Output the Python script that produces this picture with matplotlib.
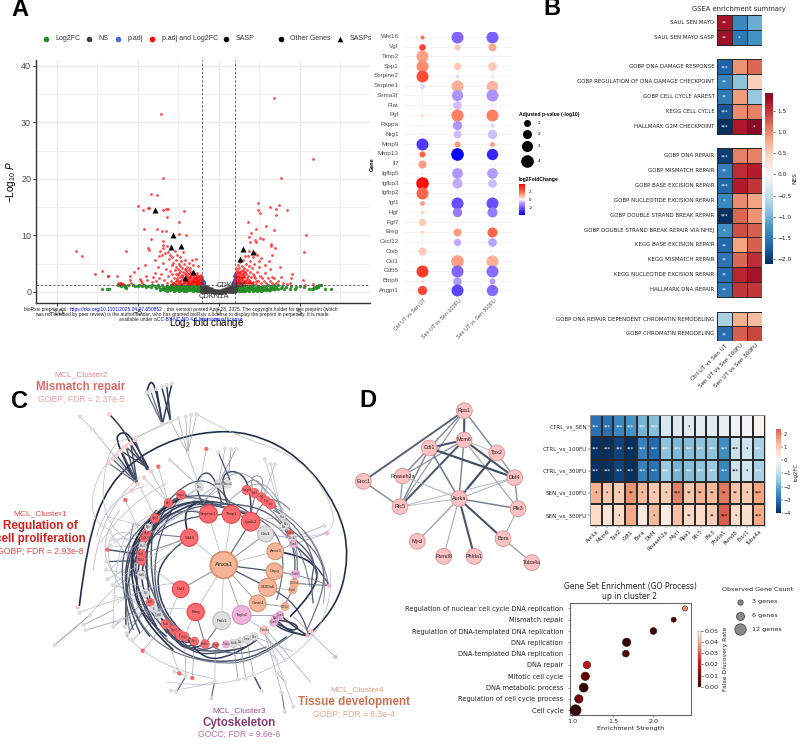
import numpy as np
import matplotlib
matplotlib.use("Agg")
import matplotlib.pyplot as plt
from matplotlib.colors import LinearSegmentedColormap, Normalize, to_rgb
from matplotlib.patches import Circle, PathPatch
from matplotlib.path import Path

plt.rcParams['font.family'] = ['Liberation Sans', 'DejaVu Sans']
plt.rcParams['mathtext.fontset'] = 'custom'
plt.rcParams['mathtext.rm'] = 'Liberation Sans'
plt.rcParams['mathtext.it'] = 'Liberation Sans:italic'
plt.rcParams['mathtext.default'] = 'regular'
DJ = 'DejaVu Sans'

# ---------- Panel A volcano ----------
RED_TOP = [(3.44,34.2),(-3.58,31.5),(5.84,23.5),(-3.42,20.2),(3.83,20.2),(-4.18,17.4),(-3.77,17.2),(-4.98,15.2),(-4.36,14.9),(-4.30,14.9),
 (-4.69,14.5),(-3.4,14.4),(-3.1,14.75),(-3.22,14.6),(-2.14,14.3),(-3.19,13.2),(-2.47,12.3),(-4.6,11.2),(-3.8,11.1),(-3.5,10.8),(-3.25,10.8),
 (-4.2,9.4),(-2.45,10.3),(-2.04,10.1),(-3.44,9),(-3.4,8.3),(-4.36,7.7),(-4.28,7.4),(-3.95,5.6),(-4.57,4.7),(-5,4.2),(-5.25,3.5),(-5.45,2.9),
 (-6.25,2.8),(-6.85,2.8),(-6.8,2.75),(-7.2,3.7),(-7.6,3.2),(-5.72,7.2),(-8.8,7.2),(-8.42,6.3),(2.45,15.7),(2.43,14.4),(2.57,13.9),(3.2,15),
 (3.52,14.7),(3.74,15.3),(4.22,14.5),(3.54,13.6),(1.83,12.4),(2.33,11.2),(2.92,11.7),(3.4,11),(1.98,10.5),(1.85,9.8),(5.39,10.1),(2.57,9.6),
 (2.72,9.4),(2.22,9.2),(2.33,8.9),(1.93,8.85),(3.23,8.4),(3.26,8.2),(3.46,7.7),(5.29,7.1),(3.31,6.5),(2.37,6.5),(2.47,5.4),(3.1,5.5),(3.8,4.5),
 (2.88,4.8),(3.2,4),(4.53,3.2),(3.87,2.7),(4.49,2.4),(5.19,2.1),(3.33,2.6),(5.86,1.35),(5.35,1.25)]
RED_LEFT = [(-6.2,1.6),(-6.1,1.5),(-6.0,1.45),(-5.9,1.4),(-6.05,1.55),(-5.45,2.2),(-5.4,1.6),(-4.85,2.3),(-4.8,1.9),(-4.7,1.6),(-4.45,2.9),
 (-4.4,2.1),(-4.1,1.7),(-4.05,2.6),(-3.95,3.4),(-3.85,1.9),(-3.75,4.5),(-3.7,2.4),(-3.65,6.3),(-3.6,7.2),(-3.55,3.2),(-3.5,6.6),(-3.45,7.8),
 (-3.4,5.1),(-3.35,2.2),(-3.3,6.9),(-3.25,4.1),(-3.2,8.2),(-3.2,1.6),(-3.15,7.1),(-3.1,2.9),(-3.05,5.8),(-3.0,3.7),(-3.0,6.5),(-2.95,2.0),
 (-2.9,4.7),(-2.85,3.1),(-2.85,6.1),(-2.8,1.5),(-2.8,5.1),(-2.75,2.5),(-2.7,3.9),(-2.7,7.3),(-2.65,4.5),(-2.65,1.9),(-2.6,3.2),(-2.6,5.6),
 (-2.55,2.4),(-2.55,6.5),(-2.5,4.1),(-2.5,1.5),(-2.45,3.4),(-2.45,5.0),(-2.4,2.7),(-2.4,4.6),(-2.4,6.1),(-2.35,1.8),(-2.35,3.7),(-2.3,2.2),
 (-2.3,5.5),(-2.25,3.0),(-2.25,4.3),(-2.2,1.5),(-2.2,2.5),(-2.2,3.6),(-2.2,7.0),(-2.15,4.9),(-2.1,1.9),(-2.1,3.1),(-2.1,4.0),(-2.05,2.4),
 (-2.05,5.6),(-2.0,1.6),(-2.0,2.9),(-2.0,3.5),(-1.95,4.5),(-1.95,2.1),(-1.9,3.1),(-1.9,1.5),(-1.85,2.6),(-1.85,3.8),(-1.85,5.2),(-1.8,1.9),
 (-1.8,3.3),(-1.75,2.3),(-1.75,4.3),(-1.7,1.5),(-1.7,2.8),(-1.7,3.5),(-1.65,2.0),(-1.65,5.7),(-1.6,2.5),(-1.6,3.0),(-1.6,1.6),(-1.55,4.7),
 (-1.55,2.1),(-1.5,1.4),(-1.5,2.7),(-1.5,3.4),(-1.45,1.8),(-1.45,2.3),(-1.4,3.0),(-1.4,5.8),(-1.4,1.5),(-1.35,2.1),(-1.35,2.6),(-1.3,1.7),
 (-1.3,3.4),(-1.25,2.3),(-1.25,1.4),(-1.25,4.6),(-1.2,1.9),(-1.2,2.8),(-1.15,1.5),(-1.15,2.3),(-1.1,1.8),(-1.1,3.0),(-1.05,1.4),(-1.05,2.1),
 (-1.05,2.6),(-1.02,1.6),(-2.6,1.4),(-2.9,1.4),(-2.3,1.4),(-1.9,1.8),(-1.75,1.4),(-1.55,1.7),(-1.35,1.4),(-1.95,2.6),(-2.15,2.2),(-1.72,3.1),
 (-2.42,1.9),(-2.28,2.9),(-2.12,1.5),(-2.02,2.2),(-1.98,3.9),(-1.88,2.3),(-1.82,1.4),(-1.78,2.7),(-1.68,1.8),(-1.62,2.2),(-1.58,3.6),(-1.52,1.9),
 (-1.48,2.4),(-1.42,1.7),(-1.38,2.4),(-1.32,2.0),(-1.28,2.9),(-1.22,1.6),(-1.18,2.1),(-1.12,2.6),(-1.08,1.5),(-1.03,2.0),(-2.58,2.1),(-2.72,1.6),(-2.48,3.0)]
RED_RIGHT = [(1.02,1.5),(1.03,2.2),(1.04,2.9),(1.05,3.6),(1.06,1.9),(1.08,4.2),(1.1,1.4),(1.1,2.6),(1.12,3.2),(1.15,1.8),(1.15,3.9),(1.18,2.3),
 (1.2,1.5),(1.2,4.8),(1.22,2.9),(1.25,3.4),(1.25,1.9),(1.28,4.3),(1.3,2.4),(1.3,1.4),(1.33,3.0),(1.35,5.3),(1.38,1.8),(1.4,3.7),(1.42,2.6),
 (1.45,1.5),(1.45,4.6),(1.48,3.1),(1.5,2.1),(1.52,5.7),(1.55,1.7),(1.55,3.5),(1.6,2.6),(1.6,4.2),(1.62,6.3),(1.65,1.5),(1.68,3.1),(1.7,5.0),
 (1.72,2.1),(1.75,3.8),(1.8,1.7),(1.8,6.4),(1.82,2.9),(1.85,4.6),(1.88,2.2),(1.9,7.2),(1.92,3.5),(1.95,5.5),(2.0,1.5),(2.0,2.7),(2.05,4.2),
 (2.1,6.1),(2.12,3.1),(2.15,1.8),(2.2,5.0),(2.25,2.4),(2.28,6.8),(2.3,1.4),(2.35,3.6),(2.45,2.0),(2.5,4.4),(2.55,2.8),(2.6,1.6),(2.65,6.0),
 (2.7,2.4),(2.8,1.9),(2.85,3.4),(2.95,1.6),(3.05,2.5),(3.15,1.9),(3.3,1.6),(3.45,2.4),(3.55,1.5),(3.7,1.9),(3.95,1.6),(4.2,1.4),(4.4,1.6),
 (1.05,1.6),(1.08,2.4),(1.12,1.6),(1.14,2.8),(1.17,3.5),(1.22,2.1),(1.26,2.7),(1.3,3.6),(1.34,1.6),(1.36,2.2),(1.42,3.2),(1.46,2.4),(1.5,3.9),
 (1.56,2.9),(1.62,1.9),(1.66,3.6),(1.74,1.6),(1.78,2.5),(1.86,1.5),(1.96,2.0),(2.08,1.6),(2.2,2.9),(2.32,2.0)]
GREEN = [(-7.2,.55),(-6.9,.5),(-6.75,.5),(-6.2,1.3),(-6.1,1.2),(-6.0,1.1),(-5.85,1.2),(-5.8,.8),(-5.75,1.0),(-5.7,.7),(-5.6,1.2),(-5.3,1.2),(-5.15,1.05),
 (-5.0,1.0),(-4.9,1.15),(-4.75,1.0),(-4.6,1.25),(-4.5,.95),(-4.35,1.1),(-4.2,.85),(-4.1,1.2),(-3.95,1.0),(-3.85,.75),(-3.75,1.15),(-3.65,.9),(-3.55,.6),
 (-3.5,1.2),(-3.4,.95),(-3.35,.6),(-3.3,.35),(-3.25,.8),(-3.2,1.1),(-3.1,.55),(-3.05,.9),(-3.0,.3),(-2.95,1.2),(-2.9,.7),(-2.85,.45),(-2.8,1.0),(-2.75,.25),
 (-2.7,.65),(-2.65,1.2),(-2.6,.4),(-2.55,.85),(-2.5,1.1),(-2.45,.25),(-2.4,.6),(-2.35,.95),(-2.3,.4),(-2.25,1.2),(-2.2,.7),(-2.15,.25),(-2.1,1.0),(-2.05,.5),
 (-2.0,.8),(-1.95,1.2),(-1.9,.3),(-1.85,.65),(-1.8,1.0),(-1.75,.4),(-1.7,.8),(-1.65,1.2),(-1.6,.25),(-1.55,.6),(-1.5,.95),(-1.45,.4),(-1.4,1.2),(-1.35,.75),
 (-1.3,.2),(-1.25,.5),(-1.2,1.0),(-1.15,.3),(-1.1,.7),(-1.05,1.2),(-1.02,.15),(-1.02,.45),(-1.02,.85),(-3.6,.3),(-3.2,.25),(-2.9,1.15),(-2.6,1.0),(-2.3,.75),(-2.0,.2),(-1.7,.5),(-1.4,.5),(-1.2,.15),
 (-2.85,.85),(-2.72,.45),(-2.5,.55),(-2.25,.5),(-2.15,.9),(-1.95,.5),(-1.85,1.0),(-1.6,.9),(-1.5,.3),(-1.3,1.0),(-1.12,.95),(-3.0,.65),(-3.15,.85),(-3.4,.45),(-2.62,.7),(-2.35,1.15),
 (1.02,.15),(1.02,.5),(1.02,.9),(1.05,1.2),(1.1,.3),(1.15,.7),(1.2,1.05),(1.25,.2),(1.3,.5),(1.35,.85),(1.4,.25),(1.45,1.2),(1.5,.6),(1.55,.3),(1.6,.9),(1.65,.2),
 (1.7,.5),(1.75,1.1),(1.8,.35),(1.85,.7),(1.9,.2),(1.95,1.0),(2.0,.45),(2.05,.8),(2.1,.25),(2.15,1.2),(2.2,.55),(2.25,.3),(2.3,.9),(2.35,.2),(2.4,.6),(2.45,1.05),
 (2.5,.35),(2.55,.75),(2.6,.25),(2.65,.95),(2.7,.5),(2.75,.3),(2.8,1.1),(2.85,.6),(2.9,.3),(2.95,.85),(3.0,.45),(3.05,1.2),(3.1,.35),(3.15,.7),(3.2,.4),(3.25,1.0),
 (3.3,.45),(3.35,.8),(3.4,.45),(3.45,1.15),(3.5,.6),(3.55,.9),(3.65,.6),(3.7,1.2),(3.85,.75),(3.9,1.1),(4.05,.5),(4.15,.85),(4.4,.6),(4.5,1.1),(4.7,.55),(4.8,.8),
 (5.0,1.1),(5.3,.8),(5.6,.5),(5.75,.55),(5.85,.6),(5.9,.9),(6.0,.65),(6.05,1.1),(6.15,.8),(6.2,1.2),(6.3,1.2),(6.55,.5),(6.95,.5),
 (1.25,.75),(1.45,.8),(1.6,.5),(1.8,.9),(2.0,.95),(2.15,.75),(2.3,.45),(2.5,.8),(2.7,.8),(1.15,.35),(1.5,.25)]
GRAY = [(-1.0,.1),(-1.0,.4),(-1.0,.7),(-1.0,1.0),(-1.0,1.25),(-.92,.1),(-.92,.5),(-.92,.85),(-.92,1.1),(-.84,.1),(-.84,.4),(-.84,.7),(-.84,.95),(-.75,.1),(-.75,.35),
 (-.75,.6),(-.75,.8),(-.66,.1),(-.66,.3),(-.66,.55),(-.66,.7),(-.57,.1),(-.57,.3),(-.57,.55),(-.48,.1),(-.48,.3),(-.48,.45),(-.39,.1),(-.39,.3),(-.3,.08),(-.3,.25),
 (-.2,.08),(-.2,.18),(-.1,.06),(-.1,.12),(0,.05),(.1,.06),(.1,.14),(.2,.08),(.2,.2),(.3,.08),(.3,.28),(.4,.1),(.4,.35),(.48,.1),(.48,.3),(.48,.48),(.57,.1),(.57,.35),
 (.57,.58),(.66,.1),(.66,.35),(.66,.7),(.75,.1),(.75,.4),(.75,.85),(.84,.1),(.84,.5),(.84,.95),(.92,.1),(.92,.6),(.92,1.1),(1.0,.1),(1.0,.5),(1.0,.9),(1.0,1.25)]
BLUE = [(-1.0,1.4),(-1.0,1.7),(-.98,2.0),(-.95,1.5),(-.9,1.35),(-1.0,2.3),(-.92,1.7),(.85,1.35),(.9,1.5),(.92,1.8),(.95,1.4),(.97,2.2),(1.0,1.5),(1.0,1.9),(1.0,2.5),(.98,2.9),(1.0,3.2)]
SASP = [(-3.91,14.5),(-2.8,10),(-2.92,7.9),(-2.33,8.1),(-1.56,3.6),(-2.1,2.5),(1.54,7.55),(2.14,7.0),(1.34,5.9)]

# ---------- Panel A dot plot ----------
DOT_GENES = ['Wnt16','Vgf','Timp2','Spp1','Serpine2','Serpine1','Sema3f','Plat','Pgf','Pappa','Nrg1','Mmp9','Mmp13','Il7','Igfbp5','Igfbp3',
             'Igfbp2','Igf1','Hgf','Fgf7','Ereg','Cxcl12','Ctsb','Csf1','Cd55','Bmp6','Angpt1']
DOT_GROUPS = ['Ctrl UT vs Sen UT','Sen UT vs Sen 100FU','Sen UT vs Sen 300FU']
DOT_SIZE = [[12,36,36],[20,18,24],[36,2,2],[36,22,26],[36,12,10],[16,36,34],[2,34,36],[3,26,10],[12,36,36],[4,28,12],[10,24,28],[36,18,14],[18,38,34],
            [24,2,2],[10,32,32],[38,30,26],[36,3,3],[14,36,36],[12,28,30],[22,4,8],[12,24,30],[3,22,26],[24,4,5],[10,38,36],[36,36,36],[10,26,18],[28,36,34]]
DOT_LFC = [[1.8,-1.7,-1.8],[2.6,.6,1.0],[1.1,.05,.05],[1.4,.6,.6],[2.4,-.25,-.15],[-.35,.9,.8],[0,-1.0,-1.05],[.08,-.55,-.15],[.25,1.6,1.6],[.08,-1.0,-.35],
           [.2,-.55,-.55],[-2.5,1.2,1.2],[2.1,-3.6,-2.9],[1.2,0,0],[-.15,-1.0,-.9],[3.4,-.7,-.55],[2.0,.03,.03],[1.2,-2.1,-2.1],[.35,-1.4,-1.4],[.55,-.05,-.1],
           [.35,1.2,2.0],[.03,-.7,-.8],[.55,.03,.08],[-.1,1.1,.9],[2.7,-1.7,-1.6],[.4,-.9,-.9],[2.5,-2.3,-1.7]]

# ---------- Panel B GSEA ----------
GSEA_TERMS = ['SAUL SEN MAYO','SAUL SEN MAYO SASP','','GOBP DNA DAMAGE RESPONSE','GOBP REGULATION OF DNA DAMAGE CHECKPOINT','GOBP CELL CYCLE ARREST','KEGG CELL CYCLE',
  'HALLMARK G2M CHECKPOINT','','GOBP DNA REPAIR','GOBP MISMATCH REPAIR','GOBP BASE EXCISION REPAIR','GOBP NUCLEOTIDE EXCISION REPAIR','GOBP DOUBLE STRAND BREAK REPAIR',
  'GOBP DOUBLE STRAND BREAK REPAIR VIA NHEJ','KEGG BASE EXCISION REPAIR','KEGG MISMATCH REPAIR','KEGG NUCLEOTIDE EXCISION REPAIR','HALLMARK DNA REPAIR','',
  'GOBP DNA REPAIR DEPENDENT CHROMATIN REMODELING','GOBP CHROMATIN REMODELING']
GSEA_NES = [[1.75,-1.35,-1.05],[1.8,-1.5,-1.25],[np.nan]*3,[-1.7,.95,1.2],[-1.4,-.85,.5],[-1.5,.9,-.8],[-1.8,1.0,1.05],[-2.1,1.7,1.9],[np.nan]*3,
  [-2.0,1.05,1.05],[-1.45,1.55,1.65],[-1.65,1.65,1.5],[-1.35,1.0,.85],[-2.1,1.2,.95],[-1.3,1.35,1.25],[-1.65,.85,1.25],[-1.55,1.2,1.55],[-1.6,1.6,1.75],[-1.5,1.5,1.5],
  [np.nan]*3,[-.7,.75,.65],[-1.6,1.25,1.4]]
GSEA_SIG = [['**','',''],['**','*',''],['','',''],['***','',''],['**','',''],['**','',''],['***','',''],['***','','*'],['','',''],['***','',''],['**','',''],['***','',''],
  ['*','',''],['***','',''],['*','',''],['**','',''],['**','',''],['**','',''],['**','',''],['','',''],['','',''],['**','','']]
GSEA_COLS = ['Ctrl UT vs Sen UT','Sen UT vs Sen 100FU','Sen UT vs Sen 300FU']

# ---------- Panel D heatmap ----------
HM_GENES = ['Aurka','Mcm6','Tpx2','Cdt1','Bora','Dbf4','Rnaseh2a','Mycl','Rpa1','Rfc5','Plk3','Phlda1','Psmd8','Ercc1','Tuba4a']
HM_ROWS = ['CTRL_vs_SEN','CTRL_vs_100FU','CTRL_vs_300FU','SEN_vs_100FU','SEN_vs_300FU']
HM_VAL = [[-3.0,-3.0,-2.6,-2.4,-1.9,-1.7,-.7,-.6,-.55,-.45,-.5,-.3,-.15,-.1,.1],
          [-4,-4,-3.7,-4,-2.7,-3.1,-1.6,-1.8,-1.7,-1.6,-1.6,-2.5,-.9,-.8,-1.3],
          [-4,-4,-3.7,-4,-2.7,-3,-1.5,-1.9,-1.7,-1.6,-1.5,-2.6,-.9,-.8,-1.3],
          [1.4,1.1,1.0,1.8,1.3,1.1,1.0,2.0,1.1,1.4,1.3,2.1,1.2,1.0,1.6],
          [.8,.5,.8,1.5,.4,1.3,.4,1.2,.8,.8,1.0,2.38,.8,.7,1.5]]
HM_SIG = [['***']*6+['','','*','','','','','',''],
          ['***']*13+['*','***'],['***']*13+['*','***'],
          ['*','*','*','**','*','*','*','***','**','**','**','**','**','*','***'],
          ['','','*','','','*','','','**','','**','***','*','','***']]

# ---------- Panel D enrichment ----------
GO_TERMS = ['Regulation of nuclear cell cycle DNA replication','Mismatch repair','Regulation of DNA-templated DNA replication','DNA replication','DNA-templated DNA replication',
            'DNA repair','Mitotic cell cycle','DNA metabolic process','Regulation of cell cycle process','Cell cycle']
GO_STRENGTH = [2.39,2.25,2.0,1.67,1.66,1.18,1.16,1.14,1.08,1.04]
GO_FDR = [.035,.004,.003,.002,.005,.02,.008,.002,.01,.002]
GO_COUNT = [3,3,4,6,4,5,6,8,6,12]

# ---------- Panel C network (layout units) ----------
C_BIG = [('Anxa1',671,585,80,'o'),('Serpine1',625,432,54,'r'),('Timp1',694,433,54,'r'),('Lgals3',752,455,56,'r'),('Cav1',797,492,48,'g'),('Anxa3',826,544,50,'o'),
         ('Capg',823,604,50,'o'),('S100a6',803,652,54,'o'),('Cavin1',773,700,50,'o'),('Tagln2',725,735,56,'p'),('Prdx1',665,752,54,'g'),('Ereg',587,726,52,'r'),
         ('Csf1',542,658,50,'r'),('Cd44',568,503,52,'r')]
C_SMALL = [('Angpt1',740,360,28,'r'),('Itgb3',763,369,28,'r'),('Fn1',785,382,28,'r'),('Tnc',798,393,28,'r'),('Lox',812,403,28,'r'),('Hmga2',543,374,28,'r'),('Myc',505,399,26,'r'),
 ('Igfbp3',465,445,28,'r'),('Pdgfb',440,490,26,'r'),('Tgfb2',432,505,24,'r'),('Sox9',424,553,28,'r'),('Nfkb2',424,571,28,'r'),('Bcl3',451,697,24,'r'),('Sod2',497,763,28,'r'),
 ('Ptgs2',522,780,28,'r'),('Il6',540,795,28,'r'),('Vegfa',553,800,28,'r'),('Fos',583,814,26,'r'),('Wnt5a',615,822,26,'r'),('Hbegf',647,825,18,'r'),('Tubb',678,823,22,'p'),
 ('Actb',700,820,24,'g'),('Vim',720,815,24,'g'),('Lmna',740,808,24,'g'),('Plec',762,800,24,'g'),('Nes',598,351,24,'g'),('Lamb1',655,342,24,'g'),('Anxa2',683,343,24,'g'),
 ('Flna',847,440,22,'g'),('Ezr',850,470,22,'g'),('Msn',858,462,22,'g'),('Tnfrsf',870,490,20,'r'),('Rock2',877,505,24,'g'),('Tpm1',880,522,24,'p'),('Tubb6',887,612,26,'p'),
 ('S100a4',883,640,26,'o'),('Fxyd5',878,660,24,'o'),('S100a',855,710,24,'o'),('Tpm2',840,735,24,'p'),('Myl9',827,745,24,'p'),('Tpm4',821,757,24,'p'),('Tuba4a',792,780,26,'l'),
 ('Adf3',424,615,26,'g'),('Ngf',437,670,24,'g'),('Ilk',462,717,24,'g'),('Tgfb1',476,735,24,'g'),('Rac1',428,527,22,'g'),('Egfr',445,472,22,'g')]
C_OUTER_X = [240,278,328,405,392,378,364,350,338,327,413,394,432,453,475,376,619,322,233,428,538,577,981,988,933,923,1006,
             440,452,470,485,500,516,487,512,535,557,573,590,563,510,675,693,708,655,795,812,825,972,330,335,332,320,318,322,338,345,238,270,250,257,164,340,362,375,380,398,
             523,513,529,558,644,634,714,737,761,785,845,854,880,855,832,830,855,880,933]
C_OUTER_Y = [140,178,133,210,220,230,243,255,267,280,342,362,323,304,290,390,237,539,712,842,910,924,490,647,783,797,861,
             67,63,57,50,45,40,163,155,145,140,135,133,250,270,236,238,237,247,268,283,283,467,487,508,527,575,600,628,645,680,728,735,765,780,825,770,750,770,790,810,
             905,962,967,918,933,985,928,925,916,963,968,1025,1010,936,910,870,870,845,938]
C_OUTER_K = ['g','g','l','l','l','l','l','l','l','l','l','l','l','l','r','r','r','r','l','r','r','r','p','p','l','p','p'] + ['g']*57
# each edge: weight (0 light .. 1 dark), then way-points
C_EDGES = [
 (.15,[(671,585),(625,432)]),(.15,[(671,585),(694,433)]),(.6,[(671,585),(752,455)]),(.4,[(671,585),(797,492)]),(.15,[(671,585),(826,544)]),(.7,[(671,585),(823,604)]),
 (.7,[(671,585),(803,652)]),(.3,[(671,585),(773,700)]),(.3,[(671,585),(725,735)]),(.15,[(671,585),(665,752)]),(.15,[(671,585),(587,726)]),(.4,[(671,585),(542,658)]),(.15,[(671,585),(568,503)]),
 (1,[(238,708),(260,520),(325,340),(450,235),(600,185),(750,185),(900,260),(1015,410),(1050,560),(1005,725),(925,795)]),
 (.9,[(568,503),(480,560),(470,680),(540,790),(583,814)]),(.8,[(505,399),(420,480),(400,620),(450,760),(540,850),(650,880),(780,860),(860,800)]),
 (.55,[(543,374),(440,440),(390,560),(385,700),(470,830),(640,885),(780,870),(880,790)]),(.7,[(465,445),(530,350),(640,320),(690,400)]),(.8,[(625,432),(570,345),(640,285),(665,400)]),
 (.85,[(694,433),(640,300),(760,310),(752,455)]),(.5,[(752,455),(760,330),(800,390)]),(1,[(568,503),(540,420),(620,390),(760,440)]),(.7,[(440,490),(500,400),(625,432)]),
 (.7,[(424,553),(480,430),(694,433)]),(.6,[(424,571),(450,420),(600,360),(752,455)]),(.7,[(803,652),(900,690),(925,795)]),(1,[(826,544),(940,560),(960,650),(870,740)]),
 (.4,[(823,604),(930,620),(988,647)]),(.8,[(880,522),(950,580),(988,647)]),(.5,[(883,640),(988,647)]),(.9,[(840,735),(880,770),(923,797)]),(.9,[(827,745),(860,790),(923,797)]),
 (.9,[(821,757),(840,785),(923,797)]),(.9,[(835,750),(900,760),(880,790),(830,760)]),(.8,[(497,763),(520,830),(583,814)]),(.8,[(522,780),(530,860),(615,822)]),(.9,[(540,795),(560,850),(583,814)]),
 (.7,[(553,800),(600,860),(647,825)]),(.5,[(451,697),(400,760),(380,800)]),(.8,[(322,539),(424,553)]),(.7,[(320,575),(424,571)]),(.5,[(400,460),(360,640),(390,790)]),
 (.8,[(425,530),(370,620),(378,770)]),(.9,[(440,500),(400,620),(425,740),(500,800)]),(.8,[(465,445),(430,610),(500,790)]),(.9,[(505,399),(415,560),(440,720),(540,795)]),(.7,[(543,374),(460,500),(470,740),(553,800)]),
 (.6,[(600,400),(780,420),(870,560),(830,690)]),(.7,[(625,405),(780,390),(900,530),(880,640)]),(.5,[(670,410),(830,440),(920,600),(850,710)]),(.5,[(740,360),(900,470),(930,650)]),(.45,[(763,369),(870,440),(880,500)]),
 (.4,[(740,340),(770,310),(800,370)]),(.4,[(780,380),(800,320),(745,315),(760,370)]),(.7,[(830,410),(800,390),(762,370)]),
 (1,[(405,335),(345,215),(360,185),(395,195),(445,295)]),(.9,[(328,133),(370,175),(405,250),(445,300)]),(.8,[(405,210),(440,300)]),(.8,[(392,220),(412,340)]),(.8,[(378,230),(412,340)]),(.8,[(364,243),(412,340)]),
 (.8,[(350,255),(412,340)]),(.7,[(338,267),(412,340)]),(.6,[(327,280),(412,340)]),(.8,[(378,230),(445,295)]),(.8,[(364,243),(445,295)]),(.15,[(240,140),(278,178)]),(.2,[(278,178),(405,335)]),(.15,[(413,342),(394,362)]),
 (.15,[(432,323),(505,399)]),(.15,[(453,304),(505,399)]),(.15,[(475,290),(505,399)]),(.15,[(376,390),(425,500)]),
 (1,[(440,67),(450,25),(470,60),(487,160)]),(.9,[(470,57),(487,163)]),(.9,[(485,50),(512,155)]),(.9,[(500,45),(512,155)]),(.9,[(516,40),(487,163)]),(.6,[(440,67),(487,163)]),(.6,[(452,63),(487,163)]),
 (.2,[(590,133),(563,250)]),(.2,[(512,155),(563,250)]),(.2,[(535,145),(563,250)]),(.2,[(557,140),(563,250)]),(.2,[(573,135),(563,250)]),(.12,[(590,133),(700,195),(900,260),(1000,400),(1000,500),(900,500)]),
 (.12,[(535,145),(330,220),(250,450),(330,480)]),(.12,[(512,155),(420,200),(320,220),(300,480),(420,530)]),
 (.2,[(510,270),(598,351)]),(.2,[(563,250),(598,351)]),(.2,[(655,342),(675,236)]),(.3,[(683,343),(693,238)]),(.3,[(655,342),(708,237)]),(.7,[(655,247),(690,330)]),(.15,[(619,237),(598,351)]),(.15,[(795,268),(847,440)]),(.15,[(812,283),(847,440)]),(.15,[(825,283),(790,380)]),
 (.15,[(647,825),(644,933)]),(.6,[(644,933),(634,985)]),(.3,[(700,820),(714,928)]),(.25,[(720,815),(737,925)]),(.25,[(740,808),(761,916)]),(.8,[(761,916),(785,963)]),(.2,[(792,780),(845,968)]),(.5,[(845,968),(854,1025)]),
 (.15,[(800,790),(880,1010)]),(.2,[(800,780),(933,938)]),(.2,[(583,814),(577,924)]),(.2,[(553,800),(558,918)]),(.25,[(558,918),(523,905)]),(.6,[(529,967),(558,918)]),(.12,[(513,962),(600,950),(644,933)]),
 (.2,[(428,842),(480,780)]),(.15,[(538,910),(500,800)]),(.2,[(880,845),(762,800)]),(.2,[(830,870),(770,810)]),(.2,[(855,870),(790,790)]),(.2,[(855,936),(832,910)]),(.2,[(1006,861),(880,740)]),(.2,[(972,467),(877,505)]),(.2,[(981,490),(880,522)]),
 (.12,[(500,935),(650,960),(900,860),(1000,700),(990,600)]),(.12,[(380,800),(480,900),(640,925)]),(.12,[(340,770),(340,560),(420,430),(560,400)]),(.12,[(270,735),(380,600),(424,615)]),(.12,[(238,728),(360,680),(437,670)]),(.35,[(164,825),(270,735)]),
 (.25,[(250,765),(340,720)]),(.25,[(257,780),(362,750)]),(.25,[(340,770),(430,700)]),(.2,[(375,770),(462,717)]),(.2,[(398,810),(476,735)]),(.12,[(330,487),(424,615)]),(.12,[(335,508),(432,505)]),(.12,[(332,527),(428,527)]),(.12,[(318,600),(424,615)]),
 (.12,[(322,628),(424,571)]),(.12,[(338,645),(437,670)]),(.12,[(345,680),(451,697)]),(.12,[(320,440),(445,472)]),(.12,[(300,520),(380,400),(500,340)]),(.15,[(280,600),(300,420),(420,320)]),(.12,[(420,350),(480,470)]),(.12,[(445,472),(598,351)]),
 (.2,[(465,445),(598,351)]),(.2,[(440,490),(655,342)]),(.15,[(432,505),(683,343)]),(.15,[(505,399),(625,432)]),(.4,[(424,553),(568,503)]),(.5,[(440,490),(568,503)]),(.15,[(424,571),(542,658)]),(.15,[(424,615),(568,503)]),(.15,[(497,763),(542,658)]),(.15,[(553,800),(587,726)]),
 (.5,[(615,822),(587,726)]),(.5,[(665,752),(615,822)]),(.3,[(725,735),(840,735)]),(.2,[(725,735),(792,780)]),(.3,[(773,700),(855,710)]),(.2,[(803,652),(878,660)]),(.2,[(823,604),(887,612)]),(.3,[(826,544),(880,522)]),(.3,[(797,492),(877,505)]),(.2,[(752,455),(847,440)]),
 (.7,[(880,505),(950,560),(930,640),(940,700)]),(.35,[(910,480),(990,560),(970,700)]),
 (.9,[(505,399),(405,500),(395,640),(470,770)]),(.8,[(440,470),(375,560),(385,720),(450,800)]),(.8,[(470,420),(385,520),(370,680),(420,790)]),(.7,[(540,380),(400,470),(350,620),(400,780)]),(1,[(560,375),(420,450),(385,600),(430,760),(520,840)]),
 (.6,[(430,600),(470,720),(560,810)]),(.6,[(425,520),(440,680),(530,790)]),(.9,[(600,395),(470,440),(430,560),(450,690)]),(.7,[(625,405),(500,420),(450,520)]),(.8,[(694,405),(560,370),(470,440)]),(.7,[(750,430),(640,350),(520,390)]),(.9,[(640,400),(520,375),(440,500)]),
 (.8,[(450,720),(510,810),(600,850),(700,840)]),(.8,[(490,770),(560,845),(650,855),(740,830)]),(.9,[(560,800),(600,870),(700,860),(770,810)]),(.6,[(640,830),(700,870),(800,830)]),
 (.6,[(820,420),(930,480),(950,620)]),(.6,[(860,470),(960,540),(980,660),(920,780)]),(.5,[(800,400),(950,470),(985,640)]),(.4,[(870,480),(900,530),(890,610)]),
 (.3,[(610,400),(680,300),(770,320),(850,420)]),(.3,[(680,400),(760,320),(840,380),(860,470)]),(.5,[(760,450),(800,345),(870,420)]),
 (.15,[(360,420),(300,500),(340,640),(430,650)]),(.15,[(290,500),(320,380),(430,350)]),(.15,[(420,500),(320,460),(330,640),(430,720)]),(.12,[(340,520),(420,470),(500,400)]),(.12,[(330,600),(420,500),(560,420)]),(.12,[(345,640),(430,560),(560,500)]),(.12,[(350,700),(440,640),(540,640)]),(.12,[(350,760),(450,700),(580,720)]),
]

# ---------- Panel D network ----------
D_NAMES = ['Rpa1','Mcm6','Cdt1','Tpx2','Rnaseh2a','Dbf4','Ercc1','Aurka','Rfc5','Plk3','Bora','Mycl','Psmd8','Phlda1','Tuba4a']
D_X = [343,342,238,440,158,494,40,327,150,504,459,202,281,373,546]
D_Y = [92,180,204,219,288,293,304,356,380,386,476,484,529,529,548]
D_EDGES = [('Rpa1','Mcm6',.9),('Rpa1','Cdt1',.5),('Rpa1','Tpx2',.5),('Rpa1','Ercc1',.8),('Rpa1','Rfc5',.35),('Mcm6','Cdt1',.9),('Mcm6','Tpx2',.15),('Mcm6','Dbf4',.9),
 ('Mcm6','Aurka',.5),('Mcm6','Rnaseh2a',.4),('Mcm6','Rfc5',.85),('Mcm6','Plk3',.3),('Cdt1','Rnaseh2a',.5),('Cdt1','Rfc5',.5),('Cdt1','Dbf4',.95),('Cdt1','Aurka',.6),('Tpx2','Aurka',.95),
 ('Tpx2','Dbf4',.4),('Rnaseh2a','Rfc5',.4),('Rnaseh2a','Aurka',.2),('Ercc1','Rfc5',.5),('Aurka','Rfc5',.15),('Aurka','Dbf4',.2),('Rfc5','Dbf4',.15),('Aurka','Plk3',.55),('Aurka','Bora',.9),
 ('Aurka','Mycl',.35),('Aurka','Psmd8',.25),('Aurka','Phlda1',.9),('Dbf4','Plk3',.45),('Plk3','Bora',.25),('Bora','Tuba4a',.35)]

# ---------- helpers ----------
fig = plt.figure(figsize=(8, 7.46), dpi=100, facecolor='white')
def ax_px(l, t, r, b, **kw):
    return fig.add_axes([l/800, 1-b/746, (r-l)/800, (b-t)/746], **kw)
def px2(d):
    return (d*0.72)**2
def xy(lst):
    a = np.array(lst, float)
    return a[:, 0], a[:, 1]

# ---------- A volcano ----------
ax = ax_px(36, 60, 370, 303)
ax.set_xlim(-11.27, 9.35); ax.set_ylim(-1.95, 41)
ax.set_xticks([-10,-5,0,5]); ax.set_yticks([0,10,20,30,40])
ax.set_xticks([-7.5,-2.5,2.5,7.5], minor=True); ax.set_yticks([5,15,25,35], minor=True)
ax.grid(True, which='major', color='#ebebeb', lw=1.0)
ax.grid(True, which='minor', color='#f0f0f0', lw=.7)
ax.set_axisbelow(True)
for s in ['top','right']: ax.spines[s].set_visible(False)
for s in ['left','bottom']:
    ax.spines[s].set_color('#333333'); ax.spines[s].set_linewidth(1.0)
ax.tick_params(which='major', labelsize=6.5, labelcolor='#4d4d4d', color='#333333', length=2, width=.7, pad=1.5)
ax.tick_params(which='minor', length=0)
ax.scatter(*xy(GREEN), s=px2(3.4), c='#228B22', lw=0, alpha=.9, zorder=3)
ax.scatter(*xy(GRAY), s=px2(4.4), c='#404040', lw=0, zorder=3)
ax.scatter(*xy(BLUE), s=px2(3.4), c='#4169E1', lw=0, zorder=3)
ax.scatter(*xy(RED_TOP+RED_LEFT+RED_RIGHT), s=px2(2.8), c='#FF0000', lw=0, alpha=.7, zorder=4)
ax.scatter(*xy(SASP), s=px2(6), c='black', marker='^', lw=0, zorder=5)
ax.axvline(-1, color='#555555', ls=(0,(3,2)), lw=.6, zorder=6); ax.axvline(1, color='#555555', ls=(0,(3,2)), lw=.6, zorder=6)
ax.axhline(1.3, color='#555555', ls=(0,(3,2)), lw=.6, zorder=6)
ax.text(-11.27-1.55, 19.5, r'$-Log_{10}$ $\mathit{P}$', rotation=90, fontsize=7.2, ha='center', va='center', color='black')

# ---------- overlay ----------
ov = ax_px(0, 0, 800, 746)
ov.set_xlim(0, 800); ov.set_ylim(746, 0); ov.axis('off'); ov.patch.set_alpha(0); ov.set_zorder(20)

for lab, x, y in [('A',11,16.5),('B',543,15),('C',11,407.5),('D',359,407)]:
    ov.text(x, y, lab, fontsize=17, fontweight='bold', ha='left', va='baseline')

ov.text(207, 323, r'$Log_2$ fold change', fontsize=7, ha='center', va='center')
ov.text(232, 285.7, 'CDKN2A', fontsize=5.4, color='#333333', ha='center', va='center')
ov.text(214, 296.5, 'CDKN1A', fontsize=5.4, color='#333333', ha='center', va='center')

leg_items = [('Log2FC',46,'#228B22','o'),('NS',89,'#404040','o'),('p.adj',118,'#4169E1','o'),('p.adj and Log2FC',152,'#FF0000','o'),('SASP',226,'black','o'),
             ('Other Genes',281,'black','o'),('SASPs',340,'black','^')]
for txt, x, c, mk in leg_items:
    ov.scatter([x],[38.5], s=px2(5.6), c=c, marker=mk, lw=0)
    ov.text(x+9.5, 38.8, txt, fontsize=5, va='center', ha='left', color='#333333')

wm = 3.55
ov.text(24, 309.5, 'bioRxiv preprint doi: ', fontsize=wm, va='center', ha='left', color='#222222')
ov.text(70, 309.5, 'https://doi.org/10.1101/2025.04.27.650852', fontsize=wm, va='center', ha='left', color='#0000EE')
ov.text(164, 309.5, '; this version posted April 28, 2025. The copyright holder for this preprint (which', fontsize=wm, va='center', ha='left', color='#222222')
ov.text(182, 314.7, 'was not certified by peer review) is the author/funder, who has granted bioRxiv a license to display the preprint in perpetuity. It is made', fontsize=wm, va='center', ha='center', color='#222222')
ov.text(119, 319.8, 'available under a', fontsize=wm, va='center', ha='left', color='#222222')
ov.text(157, 319.8, 'CC-BY-NC-ND 4.0 International license', fontsize=wm, va='center', ha='left', color='#0000EE')
ov.text(245, 319.8, '.', fontsize=wm, va='center', ha='left', color='#222222')

# ---------- A dot plot ----------
dcm = LinearSegmentedColormap.from_list('d', [(0,'#0000FF'),(.25,'#7A5CFF'),(.4,'#BDA8FF'),(.5,'#FFFFFF'),(.6,'#FFB9A4'),(.75,'#FF7050'),(1,'#FF0000')])
dnorm = Normalize(-3.7, 3.7)
dax = ax_px(403, 32, 513, 296)
dax.set_xlim(403, 513); dax.set_ylim(296, 32)
dcol = [421.7, 456.7, 492]
drow = [37 + i*9.74 for i in range(len(DOT_GENES))]
dax.set_xticks(dcol); dax.set_yticks(drow)
dax.grid(True, color='#f4f4f4', lw=.7); dax.set_axisbelow(True)
for s in dax.spines.values(): s.set_visible(False)
dax.tick_params(length=0, labelbottom=False, labelleft=False)
for i, g in enumerate(DOT_GENES):
    for j in range(3):
        dax.scatter([dcol[j]],[drow[i]], s=px2(DOT_SIZE[i][j]/3), c=[dcm(dnorm(DOT_LFC[i][j]))], lw=0, zorder=3)
    ov.text(398.7, drow[i], g, fontsize=4.5, color='#4d4d4d', ha='right', va='center')
ov.text(372, 164, 'Gene', fontsize=3.9, fontweight='bold', rotation=90, ha='center', va='center')
for j, g in enumerate(DOT_GROUPS):
    ov.text(dcol[j]+2, 298, g, fontsize=3.9, color='#4d4d4d', rotation=45, ha='right', va='top', rotation_mode='anchor')
ov.text(519, 114.5, 'Adjusted p-value (-log10)', fontsize=3.6, fontweight='bold', va='center', ha='left')
for v, y, d in [(1,123,7),(2,133.7,9),(3,146.3,11),(4,161,12.6)]:
    ov.scatter([526.7],[y], s=px2(d), c='black', lw=0)
    ov.text(537.7, y, str(v), fontsize=3.2, va='center', ha='left')
ov.text(519, 179.5, 'log2FoldChange', fontsize=3.6, fontweight='bold', va='center', ha='left')
cb = ax_px(519, 184, 525, 215)
cb.imshow(np.linspace(3.7,-3.7,128)[:,None], cmap=dcm, norm=dnorm, aspect='auto', extent=[0,1,-3.7,3.7])
cb.set_xticks([]); cb.yaxis.tick_right(); cb.set_yticks([-2,0,2]); cb.set_yticklabels(['-2','0','2'])
cb.tick_params(labelsize=3.2, length=1, width=.3, pad=1.5, color='white')
for s in cb.spines.values(): s.set_visible(False)

# ---------- B ----------
nes = np.array(GSEA_NES, float)
bnorm = Normalize(-2.1, 2.1)
bax = ax_px(716.7, 15, 762, 341.3)
for a, b in [(0,2),(3,8),(9,19),(20,22)]:
    bax.pcolormesh(np.arange(4), np.arange(a, b+1), nes[a:b], cmap='RdBu_r', norm=bnorm, edgecolors='#2a2a2a', linewidth=.5)
bax.set_ylim(len(GSEA_TERMS), 0); bax.set_xlim(0, 3)
bax.axis('off')
rowh = (341.3-15)/22
for i, t in enumerate(GSEA_TERMS):
    if t:
        ov.text(714.5, 15+(i+.5)*rowh, t, family=DJ, fontsize=4.0, color='#222222', ha='right', va='center')
    for j, s in enumerate(GSEA_SIG[i]):
        if s:
            bax.text(j+.5, i+.55, s, family=DJ, fontsize=3.6, color='white', ha='center', va='center')
for j, t in enumerate(GSEA_COLS):
    ov.text(716.7+(j+.5)*15.1+1, 343, t, family=DJ, fontsize=4.1, color='#222222', rotation=45, ha='right', va='top', rotation_mode='anchor')
ov.text(739, 9.5, 'GSEA enrichment summary', family=DJ, fontsize=4.9, color='#222222', ha='center', va='center')
bc = ax_px(765, 92.7, 773, 263.7)
bc.imshow(np.linspace(1.92,-2.1,256)[:,None], cmap='RdBu_r', norm=bnorm, aspect='auto', extent=[0,1,-2.1,1.92])
bc.set_xticks([]); bc.yaxis.tick_right(); bc.set_yticks([-2,-1.5,-1,-.5,0,.5,1,1.5])
bc.set_yticklabels(['\u22122.0','\u22121.5','\u22121.0','\u22120.5','0.0','0.5','1.0','1.5'], family=DJ)
bc.tick_params(labelsize=4.2, length=1.5, width=.4, pad=1.5, labelcolor='#222222')
for s in bc.spines.values(): s.set_visible(False)
ov.text(795, 178, 'NES', family=DJ, fontsize=4.2, rotation=90, color='#222222', ha='center', va='center')

# ---------- networks ----------
LIGHT = np.array(to_rgb('#C4C7D2')); DARK = np.array(to_rgb('#232C4A'))
def edge_color(w):
    return tuple(LIGHT + (DARK-LIGHT)*w)
def smooth_path(p):
    v = [p[0]]; c = [Path.MOVETO]
    if len(p) == 2:
        v.append(p[1]); c.append(Path.LINETO)
    else:
        for i in range(1, len(p)-1):
            end = p[i+1] if i == len(p)-2 else ((p[i][0]+p[i+1][0])/2, (p[i][1]+p[i+1][1])/2)
            v += [p[i], end]; c += [Path.CURVE3, Path.CURVE3]
    return Path(v, c)

cax = ax_px(0, 370, 350, 746)
cax.set_xlim(0, 1050); cax.set_ylim(1128, 0); cax.axis('off'); cax.patch.set_alpha(0)
for w, pts in C_EDGES:
    cax.add_patch(PathPatch(smooth_path(pts), fc='none', ec=edge_color(w), lw=.35+.85*w, zorder=1))
KIND_FACE = {'r':'#FF6B6E','o':'#F6B596','g':'#DEDEDE','p':'#EEB4DC','l':'#F9C9C9'}
KIND_EDGE = {'r':'#E8474B','o':'#D9926E','g':'#BDBDBD','p':'#D88FC6','l':'#EFAEAE'}
for x, y, k in zip(C_OUTER_X, C_OUTER_Y, C_OUTER_K):
    cax.add_patch(Circle((x,y), 6.5, fc=KIND_FACE[k] if k!='r' else '#F9686C', ec='none', zorder=2))
for name, x, y, d, k in C_SMALL:
    cax.add_patch(Circle((x,y), d/2, fc=KIND_FACE[k], ec=KIND_EDGE[k], lw=.4, zorder=3))
    cax.text(x, y, name, fontsize=1.9, ha='center', va='center', color='#333333', zorder=4)
for name, x, y, d, k in C_BIG:
    big = name == 'Anxa1'
    cax.add_patch(Circle((x,y), d/2, fc=KIND_FACE[k], ec=KIND_EDGE[k], lw=1.3 if big else .8, zorder=3))
    cax.text(x, y, name, fontsize=4.6 if big else 3.0, ha='center', va='center', color='#222222', zorder=4)

for x, y, t, fs, w, c in [
    (81,374.7,'MCL_Cluster2',6,'normal','#E28A8A'),(81,387,'Mismatch repair',8.4,'bold','#D96C6C'),(81,399,'GOBP; FDR = 2.37e-5',6.2,'normal','#EBA3A3'),
    (40,513.7,'MCL_Cluster1',6,'normal','#E34A4A'),(40.7,525.7,'Regulation of',8.4,'bold','#D21F1F'),(40,539.3,'cell proliferation',8.4,'bold','#D21F1F'),(40,551.7,'GOBP; FDR = 2.93e-8',6.2,'normal','#E34A4A'),
    (239,710.3,'MCL_Cluster3',6,'normal','#A4508C'),(239,722.7,'Cytoskeleton',8.4,'bold','#8B3A75'),(239,734.7,'GOCC; FDR = 9.6e-6',6.2,'normal','#B472A4'),
    (357,690,'MCL_Cluster4',6,'normal','#E39A7C'),(354,702,'Tissue development',8.4,'bold','#CC7050'),(354,714,'GOBP; FDR = 6.3e-4',6.2,'normal','#E8A888')]:
    ov.text(x, y, t, fontsize=fs, fontweight=w, color=c, ha='center', va='center')

nax = ax_px(350, 380, 550, 580)
nax.set_xlim(0, 600); nax.set_ylim(600, 0); nax.axis('off'); nax.patch.set_alpha(0)
pos = {n:(x,y) for n,x,y in zip(D_NAMES,D_X,D_Y)}
L2 = np.array(to_rgb('#C8CAD4')); D2 = np.array(to_rgb('#3A4560'))
for a, b, w in D_EDGES:
    nax.plot([pos[a][0],pos[b][0]],[pos[a][1],pos[b][1]], color=tuple(L2+(D2-L2)*w), lw=.5+1.1*w, zorder=1, solid_capstyle='butt')
for n, (x, y) in pos.items():
    nax.add_patch(Circle((x,y), 23.5, fc='#FFC2C2', ec='#D89A9A', lw=.7, zorder=2))
    nax.text(x, y, n, fontsize=3.9, ha='center', va='center', color='#222222', zorder=3)

# ---------- D heatmap ----------
hax = ax_px(590, 415.3, 764.7, 526)
hnorm = Normalize(-4, 4)
hax.pcolormesh(np.array(HM_VAL), cmap='RdBu_r', norm=hnorm, edgecolors='#2a2a2a', linewidth=.3)
hax.set_ylim(5, 0); hax.set_xlim(0, 15)
hax.set_xticks(np.arange(15)+.5); hax.set_yticks(np.arange(5)+.5)
hax.set_xticklabels(HM_GENES, family=DJ, rotation=45, ha='right', rotation_mode='anchor', fontsize=3.9, color='#222222')
hax.set_yticklabels(HM_ROWS, family=DJ, fontsize=4.1, color='#222222')
hax.tick_params(length=1.2, width=.3, pad=1)
for s in hax.spines.values(): s.set_color('#BBBBBB'); s.set_linewidth(.5)
for i in range(5):
    for j in range(15):
        if HM_SIG[i][j]:
            hax.text(j+.5, i+.53, HM_SIG[i][j], family=DJ, fontsize=3.3, ha='center', va='center',
                     color='white' if HM_VAL[i][j] < -1 else 'black')
hc = ax_px(776, 429.3, 780.7, 512.7)
hc.imshow(np.linspace(2.38,-4,256)[:,None], cmap='RdBu_r', norm=hnorm, aspect='auto', extent=[0,1,-4,2.38])
hc.set_xticks([]); hc.yaxis.tick_right(); hc.set_yticks([-4,-3,-2,-1,0,1,2])
hc.set_yticklabels(['\u22124','\u22123','\u22122','\u22121','0','1','2'], family=DJ)
hc.tick_params(labelsize=3.7, length=1.2, width=.3, pad=1, labelcolor='#222222')
for s in hc.spines.values(): s.set_visible(False)
ov.text(795.7, 471.7, 'log2FC', family=DJ, fontsize=3.8, rotation=90, color='#222222', ha='center', va='center')

# ---------- D enrichment ----------
gcm = LinearSegmentedColormap.from_list('g', ['#2A0000','#8B0000','#EE1C1C','#F4A27C','#FFFFFF'])
gnorm = Normalize(0, .05)
gax = ax_px(570.3, 602.7, 690.7, 715)
gy = np.arange(len(GO_TERMS))
COUNT_SIZE = {3:5.2,4:6.8,5:7.5,6:8.4,8:9.0,12:11}
gax.scatter(GO_STRENGTH, gy, s=[px2(COUNT_SIZE[c]) for c in GO_COUNT], c=GO_FDR, cmap=gcm, norm=gnorm, edgecolors='#222222', linewidths=.4, zorder=3, clip_on=False)
gax.set_xlim(.975, 2.46); gax.set_ylim(9.42, -.5)
gax.set_yticks(gy); gax.set_yticklabels(GO_TERMS, family=DJ, fontsize=4.8, color='#222222')
gax.set_xticks([1,1.5,2]); gax.set_xticklabels(['1.0','1.5','2.0'], family=DJ, fontsize=4.6, color='#222222')
gax.tick_params(length=1.5, width=.4, pad=1.5, color='#444444')
gax.tick_params(axis='y', pad=3.5)
for s in gax.spines.values(): s.set_color('#666666'); s.set_linewidth(.8)
gax.set_xlabel('Enrichment Strength', family=DJ, fontsize=4.6, labelpad=1.5, color='#222222')
ov.text(630, 591.5, 'Gene Set Enrichment (GO Process)\nup in cluster 2', family=DJ, fontsize=5.5, ha='center', va='center', color='#222222', linespacing=1.05)
gc = ax_px(697.7, 630.7, 700.7, 686.7)
gc.imshow(np.linspace(.05,0,256)[:,None], cmap=gcm, norm=gnorm, aspect='auto', extent=[0,1,0,.05])
gc.set_xticks([]); gc.yaxis.tick_right(); gc.set_yticks([0,.01,.02,.03,.04,.05])
gc.set_yticklabels(['0.00','0.01','0.02','0.03','0.04','0.05'], family=DJ)
gc.tick_params(labelsize=4.6, length=1.5, width=.4, pad=1.5, labelcolor='#222222')
for s in gc.spines.values(): s.set_color('#777777'); s.set_linewidth(.3)
ov.text(726, 659, 'False Discovery Rate', family=DJ, fontsize=4.4, rotation=90, color='#222222', ha='center', va='center')
ov.text(758, 589.3, 'Observed Gene Count', family=DJ, fontsize=4.6, ha='center', va='center', color='#222222')
for lab, y, d in [('3 genes',602,5.3),('6 genes',615.7,8),('12 genes',629,11.3)]:
    ov.scatter([739.7],[y], s=px2(d), c='#8A8A8A', edgecolors='#333333', linewidths=.5)
    ov.text(752, y, lab, family=DJ, fontsize=4.6, va='center', ha='left', color='#222222')

fig.savefig('out.png', dpi=100)
